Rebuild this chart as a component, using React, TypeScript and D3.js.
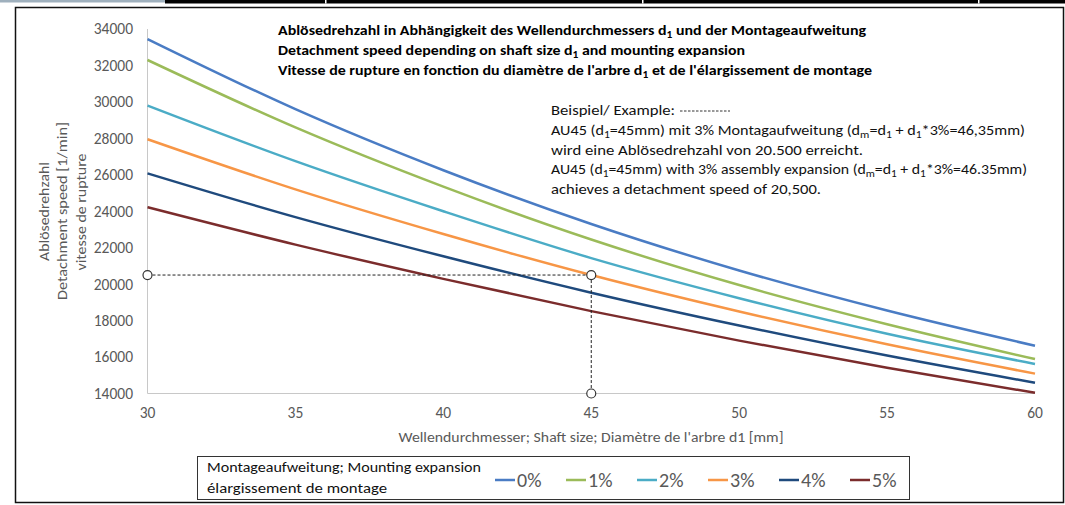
import React, { useEffect } from "react";
import * as d3 from "d3";

const shaftSizes = [30, 35, 40, 45, 50, 55, 60];
const seriesNames = ["0%", "1%", "2%", "3%", "4%", "5%"];
const speed0 = [33450, 29600, 26250, 23300, 20750, 18550, 16620];
const speed1 = [32300, 28600, 25350, 22450, 19950, 17800, 15890];
const speed2 = [29800, 26750, 24000, 21430, 19230, 17280, 15620];
const speed3 = [27950, 25200, 22750, 20500, 18500, 16700, 15090];
const speed4 = [26080, 23680, 21530, 19530, 17730, 16080, 14590];
const speed5 = [24220, 22170, 20290, 18520, 16900, 15410, 14040];
const seriesColors = ["#4a7cc4", "#9bbb59", "#4bacc6", "#f79646", "#1f4a7d", "#7b2c2c"];
const xTicks = [30, 35, 40, 45, 50, 55, 60];
const yTicks = [14000, 16000, 18000, 20000, 22000, 24000, 26000, 28000, 30000, 32000, 34000];
const exampleShaft = 45;
const exampleSpeed = 20500;

const FONT = "Carlito, Calibri, 'Open Sans', sans-serif";

// "d_{1}" marks a subscript
function rich(s: string) {
  const parts = s.split(/(_\{[^}]*\})/).filter((p) => p.length > 0);
  const out: React.ReactNode[] = [];
  let shifted = false;
  parts.forEach((p, i) => {
    if (p.startsWith("_{")) {
      out.push(
        <tspan key={i} fontSize="0.72em" dy={shifted ? 0 : 3}>
          {p.slice(2, -1)}
        </tspan>
      );
      shifted = true;
    } else {
      out.push(
        <tspan key={i} dy={shifted ? -3 : 0}>
          {p}
        </tspan>
      );
      shifted = false;
    }
  });
  return out;
}

export default function App() {
  useEffect(() => {
    document.body.style.margin = "0";
  }, []);

  const x = d3.scaleLinear().domain([30, 60]).range([147.5, 1035]);
  const y = d3.scaleLinear().domain([14000, 34000]).range([393.5, 29]);
  const allSeries = [speed0, speed1, speed2, speed3, speed4, speed5];
  const line = d3
    .line<[number, number]>()
    .x((d) => x(d[0]))
    .y((d) => y(d[1]))
    .curve(d3.curveMonotoneX);

  const legendX0 = 495;
  const legendStep = 71;

  return (
    <svg width={1065} height={505} style={{ position: "absolute", left: 0, top: 0, background: "#fff" }} fontFamily={FONT}>
      <rect x={0} y={0} width={1065} height={505} fill="#fff" />
      {/* top border bar */}
      <rect x={0} y={0} width={165} height={2.5} fill="#9fb0bd" />
      <rect x={165} y={0} width={900} height={3.5} fill="#000" />
      {[325, 642, 978].map((g) => (
        <rect key={g} x={g} y={0} width={1.5} height={3.5} fill="#fff" />
      ))}
      {/* frame */}
      <rect x={15.5} y={7.5} width={1048} height={495} fill="none" stroke="#111" strokeWidth={1.5} />

      {/* axes */}
      <line x1={x(30)} x2={x(30)} y1={y(34000)} y2={y(14000)} stroke="#c8c8c8" strokeWidth={1} />
      <line x1={x(30)} x2={x(60)} y1={y(14000)} y2={y(14000)} stroke="#c8c8c8" strokeWidth={1} />

      {yTicks.map((t) => (
        <text key={t} x={133} y={y(t)} dy="0.35em" textAnchor="end" fontSize={15.5} fill="#595959">
          {t}
        </text>
      ))}
      {xTicks.map((t) => (
        <text key={t} x={x(t)} y={418} textAnchor="middle" fontSize={15.5} fill="#595959">
          {t}
        </text>
      ))}

      {/* axis titles */}
      <text x={591} y={442} textAnchor="middle" fontSize={14.5} fill="#595959" textLength={385} lengthAdjust="spacingAndGlyphs">
        Wellendurchmesser; Shaft size; Diamètre de l'arbre d1 [mm]
      </text>
      <g fill="#595959" fontSize={14.5} textAnchor="middle">
        <text transform="translate(48.5,211.5) rotate(-90)" textLength={99} lengthAdjust="spacingAndGlyphs">Ablösedrehzahl</text>
        <text transform="translate(67,211) rotate(-90)" textLength={178} lengthAdjust="spacingAndGlyphs">Detachment speed [1/min]</text>
        <text transform="translate(85.5,212) rotate(-90)" textLength={117} lengthAdjust="spacingAndGlyphs">vitesse de rupture</text>
      </g>

      {/* series */}
      {allSeries.map((vals, i) => (
        <path
          key={seriesNames[i]}
          d={line(shaftSizes.map((s, j) => [s, vals[j]] as [number, number])) || ""}
          fill="none"
          stroke={seriesColors[i]}
          strokeWidth={2.5}
        />
      ))}

      {/* example guides */}
      <line x1={x(30)} x2={x(exampleShaft)} y1={y(exampleSpeed)} y2={y(exampleSpeed)} stroke="#222" strokeWidth={1} strokeDasharray="3,2" />
      <line x1={x(exampleShaft)} x2={x(exampleShaft)} y1={y(exampleSpeed)} y2={y(14000)} stroke="#222" strokeWidth={1} strokeDasharray="3,2" />
      {[
        [30, exampleSpeed],
        [exampleShaft, exampleSpeed],
        [exampleShaft, 14000],
      ].map(([a, b], i) => (
        <circle key={i} cx={x(a)} cy={y(b)} r={4.5} fill="#fff" stroke="#333" strokeWidth={1.2} />
      ))}

      {/* title */}
      <g fontWeight="bold" fontSize={13.5} fill="#000">
        <text x={278} y={35} textLength={588} lengthAdjust="spacingAndGlyphs">
          {rich("Ablösedrehzahl in Abhängigkeit des Wellendurchmessers d_{1} und der Montageaufweitung")}
        </text>
        <text x={278} y={55} textLength={467} lengthAdjust="spacingAndGlyphs">
          {rich("Detachment speed depending on shaft size d_{1} and mounting expansion")}
        </text>
        <text x={278} y={75} textLength={594} lengthAdjust="spacingAndGlyphs">
          {rich("Vitesse de rupture en fonction du diamètre de l'arbre d_{1} et de l'élargissement de montage")}
        </text>
      </g>

      {/* annotation */}
      <g fontSize={13.5} fill="#111">
        <text x={551} y={115} textLength={124} lengthAdjust="spacingAndGlyphs">Beispiel/ Example:</text>
        <line x1={680} x2={730} y1={111} y2={111} stroke="#333" strokeWidth={1} strokeDasharray="2.5,1.5" />
        <text x={551} y={135} textLength={474} lengthAdjust="spacingAndGlyphs">
          {rich("AU45 (d_{1}=45mm) mit 3% Montagaufweitung (d_{m}=d_{1} + d_{1}*3%=46,35mm)")}
        </text>
        <text x={551} y={155} textLength={312} lengthAdjust="spacingAndGlyphs">wird eine Ablösedrehzahl von 20.500 erreicht.</text>
        <text x={551} y={174} textLength={476} lengthAdjust="spacingAndGlyphs">
          {rich("AU45 (d_{1}=45mm) with 3% assembly expansion (d_{m}=d_{1} + d_{1}*3%=46.35mm)")}
        </text>
        <text x={551} y={194} textLength={270} lengthAdjust="spacingAndGlyphs">achieves a detachment speed of 20,500.</text>
      </g>

      {/* legend */}
      <rect x={197.5} y={456.5} width={712} height={43} fill="#fff" stroke="#333" strokeWidth={1} />
      <g fontSize={13.5} fill="#111">
        <text x={207} y={472} textLength={274} lengthAdjust="spacingAndGlyphs">Montageaufweitung; Mounting expansion</text>
        <text x={207} y={493} textLength={180} lengthAdjust="spacingAndGlyphs">élargissement de montage</text>
      </g>
      {seriesNames.map((n, i) => {
        const lx = legendX0 + i * legendStep;
        return (
          <g key={n}>
            <line x1={lx} x2={lx + 20} y1={480} y2={480} stroke={seriesColors[i]} strokeWidth={2.5} />
            <text x={lx + 22} y={487} fontSize={20} fill="#595959">{n}</text>
          </g>
        );
      })}
    </svg>
  );
}
